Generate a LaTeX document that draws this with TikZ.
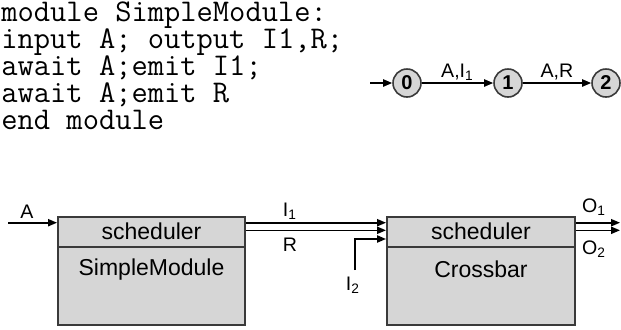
\documentclass[tikz,border=0pt]{standalone}
\usepackage{fontspec}
\setmainfont{Liberation Sans}
\usepackage{tikz}
\usetikzlibrary{arrows.meta,positioning,calc}
\definecolor{boxgray}{HTML}{D6D6D6}
\definecolor{edgegray}{HTML}{3A3A3A}

\begin{document}
\begin{tikzpicture}[x=0.5pt,y=0.5pt,
  sig/.style={line width=0.8pt,-{Triangle[length=4.5pt,width=3.6pt]}},
  state/.style={circle,draw=edgegray,fill=boxgray,line width=0.8pt,
        minimum size=14pt,inner sep=0pt,font=\bfseries\fontsize{10}{12}\selectfont},
  modbox/.style={draw=edgegray,fill=boxgray,line width=1pt,
        minimum height=54.2pt,inner sep=0pt,anchor=north west},
  lbl/.style={font=\fontsize{9.8}{11}\selectfont,inner sep=1pt},
  boxtxt/.style={font=\fontsize{11.5}{13}\selectfont},
  codeline/.style={anchor=base west,inner sep=0pt,
        font=\fontsize{15.8}{16}\selectfont\ttfamily}]
  \useasboundingbox (0,0) rectangle (621,329);

  % program text
  \node[codeline] (prog1) at (1,308) {module SimpleModule:};
  \node[codeline] (prog2) at (1,281) {input A; output I1,R;};
  \node[codeline] (prog3) at (1,254) {await A;emit I1;};
  \node[codeline] (prog4) at (1,227) {await A;emit R};
  \node[codeline] (prog5) at (1,200) {end module};

  % automaton
  \node[state] (s0) at (407,246) {0};
  \node[state] (s1) at (508,246) {1};
  \node[state] (s2) at (606,246) {2};
  \coordinate (start) at (370,246);
  \draw[sig] (start) -- (s0);
  \draw[sig] (s0) -- node[lbl,above] {A,I\textsubscript{1}} (s1);
  \draw[sig] (s1) -- node[lbl,above] {A,R} (s2);

  % modules
  \node[modbox,minimum width=93.5pt] (sm) at (57,113.3) {};
  \node[modbox,minimum width=94pt] (cb) at (386,113.3) {};
  \draw[edgegray,line width=1pt] ($(sm.north west)+(0,-31)$) -- ($(sm.north east)+(0,-31)$);
  \draw[edgegray,line width=1pt] ($(cb.north west)+(0,-31)$) -- ($(cb.north east)+(0,-31)$);
  \node[boxtxt] (sched1) at ($(sm.north)+(0,-16)$) {scheduler};
  \node[boxtxt] (simple) at ($(sm.north)+(0,-54)$) {SimpleModule};
  \node[boxtxt] (sched2) at ($(cb.north)+(0,-16)$) {scheduler};
  \node[boxtxt] (cross) at ($(cb.north)+(0,-54)$) {Crossbar};

  % signals
  \coordinate (ain) at (8,106.3);
  \draw[sig] (ain) -- (ain -| sm.west);
  \node[lbl] (alab) at (27,117) {A};
  \draw[sig] ($(sm.north east)+(0,-7)$) -- ($(cb.north west)+(0,-7)$);
  \draw[sig] ($(sm.north east)+(0,-14.6)$) -- ($(cb.north west)+(0,-14.6)$);
  \node[lbl] (i1lab) at (290,118) {I\textsubscript{1}};
  \node[lbl] (rlab) at (290,84) {R};
  \coordinate (i2) at (355,59);
  \draw[sig] (i2) |- ($(cb.north west)+(0,-23.3)$);
  \node[lbl] (i2lab) at (353,44) {I\textsubscript{2}};
  \coordinate (o1) at (620,106.3);
  \coordinate (o2) at (620,98.7);
  \draw[sig] (o1 -| cb.east) -- (o1);
  \draw[sig] (o2 -| cb.east) -- (o2);
  \node[lbl] (o1lab) at (594,122) {O\textsubscript{1}};
  \node[lbl] (o2lab) at (594,80) {O\textsubscript{2}};
\end{tikzpicture}
\end{document}
